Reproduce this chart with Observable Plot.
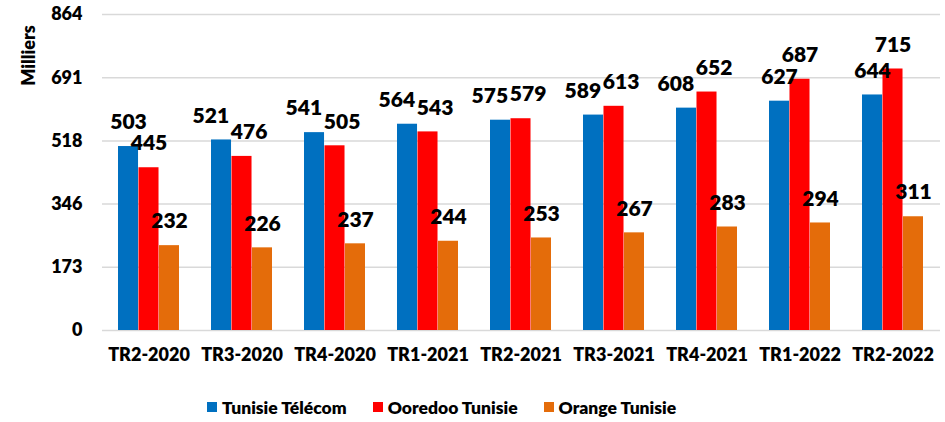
<!DOCTYPE html>
<html><head><meta charset="utf-8">
<script src="https://cdn.jsdelivr.net/npm/d3@7"></script>
<script src="https://cdn.jsdelivr.net/npm/@observablehq/plot@0.6"></script>
<style>
body{margin:0;background:#fff;font-family:Lato,"Liberation Sans",sans-serif;}
#legend{display:flex;margin-left:207px;height:42px;align-items:center;margin-top:6px;font-weight:800;font-size:17.5px;color:#000;}
#legend .it{display:flex;align-items:center;margin-right:26px;}
#legend .sw{width:10px;height:10px;margin-right:5px;}
</style></head><body>
<div id="chart"></div>
<div id="legend"></div>
<script>
const quarters = ["TR2-2020","TR3-2020","TR4-2020","TR1-2021","TR2-2021","TR3-2021","TR4-2021","TR1-2022","TR2-2022"];
const tunisieTelecom = [503,521,541,564,575,589,608,627,644];
const ooredooTunisie = [445,476,505,543,579,613,652,687,715];
const orangeTunisie = [232,226,237,244,253,267,283,294,311];
const seriesNames = ["Tunisie Télécom","Ooredoo Tunisie","Orange Tunisie"];
const seriesColors = ["#0070C0","#FF0000","#E46C0A"];
const yTicks = [0,173,346,518,691,864];

const W = 945, H = 380, ML = 102, MR = 5, MT = 14, MB = 50;
const padIn = 0.34, padOut = 0.17;
const step = (W - ML - MR) / (quarters.length - padIn + 2 * padOut);
const bw = step * (1 - padIn);
const third = bw / 3;
const pxPerUnit = (H - MT - MB) / 864;
const labelFont = 21;
const glyphH = labelFont * 0.88;
const textW = 3 * 0.56 * labelFont;
const needed = Math.max(0, textW + 3 - third);

const seriesData = [tunisieTelecom, ooredooTunisie, orangeTunisie];
const marks = [Plot.ruleY(yTicks, {stroke:"#d9d9d9", strokeWidth:1.5})];
const textStyle = {fontSize: labelFont, fontWeight: 800, fill: "#000", lineAnchor: "middle"};
seriesData.forEach((vals, i) => {
  const data = quarters.map((q, j) => ({q, v: vals[j], j}));
  marks.push(Plot.barY(data, {x:"q", y:"v", fill: seriesColors[i], insetLeft: third * i, insetRight: third * (2 - i)}));
});
// labels: nudge blue/red labels apart horizontally when they would overlap vertically
seriesData.forEach((vals, i) => {
  const data = quarters.map((q, j) => ({q, v: vals[j], j}));
  const collide = d => i < 2 && Math.abs(tunisieTelecom[d.j] - ooredooTunisie[d.j]) * pxPerUnit < glyphH;
  const base = third * (i - 1);
  const nudge = i === 0 ? -needed * 0.6 : needed * 0.4;
  marks.push(Plot.text(data.filter(d => !collide(d)), {x:"q", y:"v", text: d => String(d.v), dx: base, dy: -24, ...textStyle}));
  marks.push(Plot.text(data.filter(collide), {x:"q", y:"v", text: d => String(d.v), dx: base + nudge, dy: -24, ...textStyle}));
});
marks.push(Plot.text(["Milliers"], {frameAnchor:"top-left", text: d => d, rotate:-90, dx:-73, dy:41, fontSize:18, fontWeight:800, fill:"#000", textAnchor:"middle", lineAnchor:"middle"}));

const chart = Plot.plot({
  width: W, height: H, marginLeft: ML, marginRight: MR, marginTop: MT, marginBottom: MB,
  style: {fontFamily: "Lato, 'Liberation Sans', sans-serif", fontSize: "18px", fontWeight: 800, color:"#000", background:"transparent"},
  x: {domain: quarters, paddingInner: padIn, paddingOuter: padOut, label: null, tickSize: 0, tickPadding: 18},
  y: {domain: [0, 864], ticks: yTicks, tickFormat: d => String(d), label: null, tickSize: 0, tickPadding: 20},
  marks
});
document.getElementById("chart").appendChild(chart);

const legend = document.getElementById("legend");
seriesNames.forEach((n, i) => {
  const it = document.createElement("div"); it.className = "it";
  const sw = document.createElement("div"); sw.className = "sw"; sw.style.background = seriesColors[i];
  const t = document.createElement("span"); t.textContent = n;
  it.appendChild(sw); it.appendChild(t); legend.appendChild(it);
});
</script>
</body></html>
